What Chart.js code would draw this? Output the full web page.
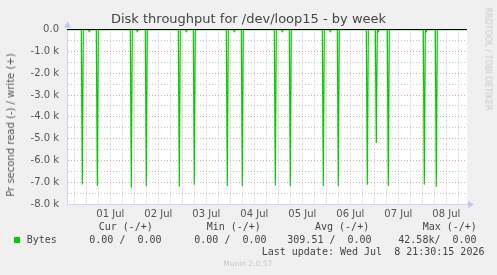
<!DOCTYPE html>
<html>
<head>
<meta charset="utf-8">
<script src="https://cdn.jsdelivr.net/npm/chart.js@4/dist/chart.umd.min.js"></script>
<style>
  html, body { margin: 0; padding: 0; background: #f0f0f0; }
  #wrap { position: relative; width: 497px; height: 275px; overflow: hidden; background: #f0f0f0; }
  canvas { position: absolute; left: 0; top: 0; }
  .t { position: absolute; white-space: pre; font-family: "DejaVu Sans Mono", monospace; font-size: 10px; line-height: 12px; color: #444; }
  #ytitle { position: absolute; font-family: "DejaVu Sans", sans-serif; font-size: 10px; line-height: 12px; color: #555; white-space: pre;
            left: 11px; top: 124.5px; transform: translate(-50%, -50%) rotate(-90deg); }
  #rrd { position: absolute; font-family: "DejaVu Sans", sans-serif; font-size: 8px; line-height: 9px; color: #c8c8c8; white-space: pre;
         left: 488px; top: 58.5px; transform: translate(-50%, -50%) rotate(90deg); }
  #munin { position: absolute; font-family: "DejaVu Sans", sans-serif; font-size: 7.5px; line-height: 9px; color: #c8c8c8; white-space: pre;
           left: 247.7px; top: 259.2px; transform: translateX(-50%); }
  .sq { position: absolute; left: 14px; top: 237px; width: 6px; height: 6px; background: #00cc00; }
</style>
</head>
<body>
<div id="wrap">
  <canvas id="c" width="497" height="275"></canvas>
  <div id="ytitle">Pr second read (-) / write (+)</div>
  <div id="rrd">RRDTOOL / TOBI OETIKER</div>
  <div class="t" style="left:98.7px;top:221.3px">Cur (-/+)</div>
  <div class="t" style="left:206.7px;top:221.3px">Min (-/+)</div>
  <div class="t" style="left:315px;top:221.3px">Avg (-/+)</div>
  <div class="t" style="left:422.7px;top:221.3px">Max (-/+)</div>
  <div class="sq"></div>
  <div class="t" id="lname" style="left:26.7px;top:233.7px"></div>
  <div class="t" id="lcur" style="left:89.3px;top:233.7px"></div>
  <div class="t" id="lmin" style="left:194.3px;top:233.7px"></div>
  <div class="t" id="lavg" style="left:287.3px;top:233.7px"></div>
  <div class="t" id="lmax" style="left:398.3px;top:233.7px"></div>
  <div class="t" style="left:261.7px;top:245.7px">Last update: Wed Jul  8 21:30:15 2026</div>
  <div id="munin">Munin 2.0.57</div>
</div>
<script>
// ---- data (hours measured from 01 Jul 00:00) ----
const seriesName = 'Bytes';
const dayLabels = ['01 Jul', '02 Jul', '03 Jul', '04 Jul', '05 Jul', '06 Jul', '07 Jul', '08 Jul'];
const yTickValues = [0, -1000, -2000, -3000, -4000, -5000, -6000, -7000, -8000];
const yTickLabels = ['0.0', '-1.0 k', '-2.0 k', '-3.0 k', '-4.0 k', '-5.0 k', '-6.0 k', '-7.0 k', '-8.0 k'];
// large read bursts (time in hours, bytes/s read drawn negative)
const burstHours = [-2, 5.5, 22.5, 30, 46.5, 54, 70.5, 78, 94.5, 102, 118.5, 126, 140.5, 145, 151, 169, 175];
const burstRead  = [7100, 7170, 7260, 7170, 7210, 7120, 7170, 7170, 7150, 7170, 7170, 7170, 7120, 5200, 7170, 7120, 7210];
// small read blips
const blipHours = [1.5, 25.5, 50, 74, 98, 122, 146, 170];
const blipRead  = [90, 90, 90, 90, 90, 90, 90, 90];
const startHour = -9.65;
const endHour = 190.35;
// legend values
const legendCur = ['0.00', '0.00'];
const legendMin = ['0.00', '0.00'];
const legendAvg = ['309.51', '0.00'];
const legendMax = ['42.58k', '0.00'];

document.getElementById('lname').textContent = seriesName;
document.getElementById('lcur').textContent = legendCur[0] + ' /  ' + legendCur[1];
document.getElementById('lmin').textContent = legendMin[0] + ' /  ' + legendMin[1];
document.getElementById('lavg').textContent = legendAvg[0] + ' /  ' + legendAvg[1];
document.getElementById('lmax').textContent = legendMax[0] + '/  ' + legendMax[1];

// build line points: baseline 0 with single-sample dips (30 min resolution)
const events = [];
burstHours.forEach((h, i) => events.push([h, burstRead[i]]));
blipHours.forEach((h, i) => events.push([h, blipRead[i]]));
events.sort((a, b) => a[0] - b[0]);
const pts = [{x: startHour, y: 0}];
events.forEach(([h, v]) => {
  pts.push({x: h - 0.5, y: 0});
  pts.push({x: h, y: -v});
  pts.push({x: h + 0.5, y: 0});
});
pts.push({x: endHour, y: 0});

const xGridHours = [];
for (let h = -6; h <= 186; h += 6) xGridHours.push(h);
const yGridValues = [];
for (let v = 0; v >= -8000; v -= 500) yGridValues.push(v);

const RED = 'rgba(225,130,130,0.75)';
const GREY = 'rgba(190,190,190,0.9)';
const AXIS = '#d0d0ff';

const decor = {
  id: 'decor',
  beforeDraw(chart) {
    const {ctx, chartArea: a} = chart;
    ctx.save();
    ctx.fillStyle = '#ffffff';
    ctx.fillRect(a.left, a.top, a.right - a.left, a.bottom - a.top);
    ctx.restore();
  },
  afterDatasetsDraw(chart) {
    const {ctx, chartArea: a, scales} = chart;
    const y0 = Math.round(scales.y.getPixelForValue(0)) + 0.5;
    ctx.save();
    ctx.strokeStyle = '#000';
    ctx.lineWidth = 1;
    ctx.beginPath();
    ctx.moveTo(a.left, y0 - 1);
    ctx.lineTo(a.right, y0 - 1);
    ctx.stroke();
    // arrows
    ctx.fillStyle = '#c4c4ff';
    const lx = Math.round(a.left) + 0.5;
    ctx.beginPath();
    ctx.moveTo(lx - 3.5, a.top - 2);
    ctx.lineTo(lx + 3.5, a.top - 2);
    ctx.lineTo(lx, a.top - 8);
    ctx.closePath();
    ctx.fill();
    const by = Math.round(a.bottom) + 0.5;
    ctx.beginPath();
    ctx.moveTo(a.right + 1, by - 3.5);
    ctx.lineTo(a.right + 1, by + 3.5);
    ctx.lineTo(a.right + 7, by);
    ctx.closePath();
    ctx.fill();
    ctx.restore();
  }
};

new Chart(document.getElementById('c'), {
  type: 'line',
  data: {
    datasets: [{
      label: seriesName,
      data: pts,
      borderColor: '#00cc00',
      backgroundColor: '#00cc00',
      borderWidth: 1.2,
      pointRadius: 0,
      tension: 0,
      fill: false
    }]
  },
  options: {
    responsive: false,
    animation: false,
    devicePixelRatio: 1,
    layout: { padding: { left: 0, right: 0, top: 0, bottom: 51 } },
    plugins: {
      legend: { display: false },
      tooltip: { enabled: false },
      title: {
        display: true,
        text: 'Disk throughput for /dev/loop15 - by week',
        color: '#444',
        font: { family: 'DejaVu Sans', size: 13, weight: 'normal' },
        padding: { top: 12, bottom: 2 }
      }
    },
    scales: {
      x: {
        type: 'linear',
        min: startHour,
        max: endHour,
        afterBuildTicks: s => { s.ticks = xGridHours.map(v => ({value: v})); },
        afterFit: s => { s.height = 20; },
        ticks: {
          autoSkip: false, maxRotation: 0, padding: 4,
          color: '#555',
          font: { family: 'DejaVu Sans', size: 10 },
          callback: v => (((v % 24) + 24) % 24 === 12) ? dayLabels[(v - 12) / 24] : ''
        },
        grid: {
          drawTicks: false,
          color: c => (c.tick && ((c.tick.value % 24) + 24) % 24 === 0) ? RED : GREY,
          lineWidth: 1
        },
        border: { display: true, color: AXIS, width: 1, dash: [1, 2] }
      },
      y: {
        min: -8000,
        max: 0,
        afterBuildTicks: s => { s.ticks = yGridValues.map(v => ({value: v})); },
        afterFit: s => { s.width = 67; },
        ticks: {
          autoSkip: false, padding: 8,
          color: '#555',
          font: { family: 'DejaVu Sans', size: 10 },
          callback: v => { const i = yTickValues.indexOf(v); return i >= 0 ? yTickLabels[i] : ''; }
        },
        grid: {
          drawTicks: false,
          color: c => (c.tick && c.tick.value === 0) ? 'rgba(0,0,0,0)' : ((c.tick && c.tick.value % 1000 === 0) ? RED : GREY),
          lineWidth: 1
        },
        border: { display: true, color: AXIS, width: 1, dash: [1, 2] }
      },
      rightSpace: {
        type: 'linear',
        position: 'right',
        display: true,
        min: -8000,
        max: 0,
        afterFit: s => { s.width = 30; },
        ticks: { display: false },
        grid: { display: false, drawOnChartArea: false },
        border: { display: false }
      }
    }
  },
  plugins: [decor]
});
</script>
</body>
</html>
